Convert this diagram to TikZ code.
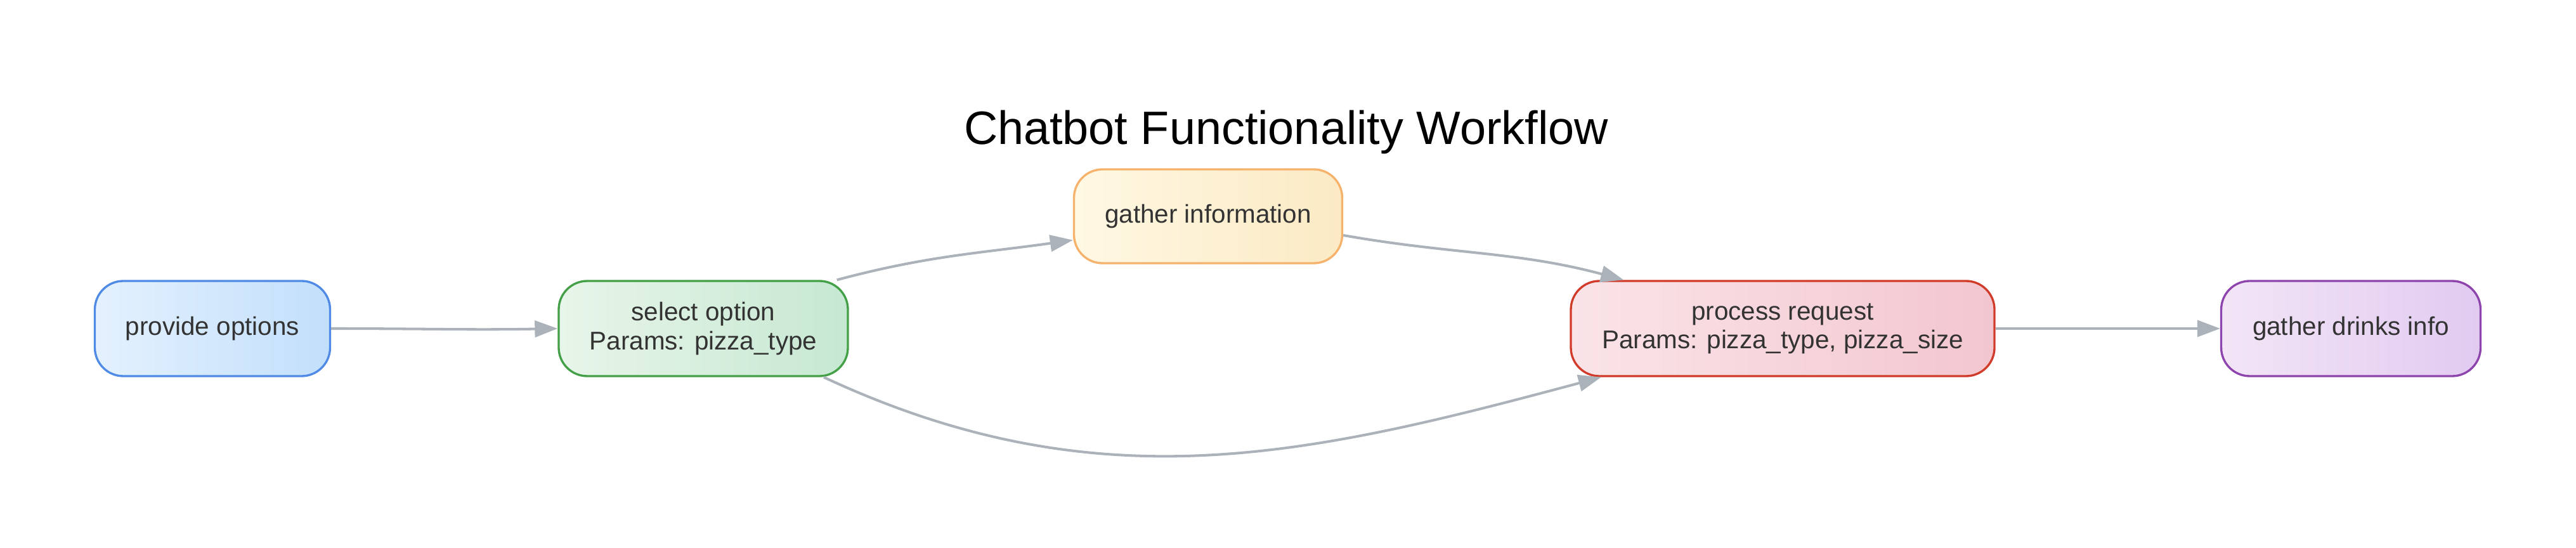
\documentclass[tikz,border=0pt]{standalone}
\usepackage{fontspec}
\setmainfont{Liberation Sans}
\usetikzlibrary{
    arrows.meta,
    positioning,
    shapes.misc
}
\definecolor{edgegray}{HTML}{ABB2BA}
\definecolor{textgray}{HTML}{333333}
\tikzset{
    every picture/.style = {
        > = {Triangle[length = 0.36cm, width = 0.26cm]}
    },
    flowbox/.style = {
        draw,
        rounded corners = 0.45cm,
        line width = 0.95pt,
        text = textgray,
        font = \fontsize{11.5}{13}\selectfont,
        align = center,
        inner sep = 0pt,
        minimum height = 1.5cm
    },
    bluebox/.style   = {flowbox, draw = {rgb,255:red,79;green,139;blue,230},  left color = {rgb,255:red,228;green,241;blue,254}, right color = {rgb,255:red,194;green,223;blue,251}},
    greenbox/.style  = {flowbox, draw = {rgb,255:red,67;green,160;blue,71},   left color = {rgb,255:red,232;green,245;blue,234}, right color = {rgb,255:red,198;green,232;blue,210}},
    orangebox/.style = {flowbox, draw = {rgb,255:red,246;green,178;blue,107}, left color = {rgb,255:red,255;green,248;blue,227}, right color = {rgb,255:red,251;green,234;blue,196}},
    redbox/.style    = {flowbox, draw = {rgb,255:red,209;green,59;blue,42},   left color = {rgb,255:red,250;green,228;blue,232}, right color = {rgb,255:red,243;green,198;blue,207}},
    purplebox/.style = {flowbox, draw = {rgb,255:red,142;green,68;blue,173},  left color = {rgb,255:red,243;green,229;blue,246}, right color = {rgb,255:red,225;green,203;blue,241}},
    flow/.style = {
        ->,
        draw = edgegray,
        line width = 1.15pt
    }
}

\begin{document}
\begin{tikzpicture}
    % \draw[step = 1cm, lightgray, very thin] (0, -8.64) grid (40.62, 0);
    \useasboundingbox (0, 0) rectangle (40.62, -8.64);

    \node (title) [anchor = base, font = \fontsize{21}{25}\selectfont] at (20.28, -2.28) {Chatbot Functionality Workflow};

    \node (options) [bluebox, minimum width = 3.71cm] at (3.35, -5.18) {provide options};
    \node (select) [greenbox, minimum width = 4.56cm] at (11.09, -5.18) {select option\\Params: pizza\_type};
    \node (gather) [orangebox, minimum width = 4.23cm, minimum height = 1.48cm] at (19.05, -3.41) {gather information};
    \node (process) [redbox, minimum width = 6.68cm] at (28.11, -5.18) {process request\\Params: pizza\_type, pizza\_size};
    \node (drinks) [purplebox, minimum width = 4.09cm] at (37.07, -5.18) {gather drinks info};

    \path[flow] (options.east) to[out = 0, in = 181] (select.west);
    \path[flow] (select.20) to[out = 15, in = 188] (gather.190);
    \path[flow] (gather.-8) to[out = -10, in = 165] (process.163);
    \path[flow] (select.-22) to[out = -25, in = 195] (process.195);
    \path[flow] (process.east) to[out = 0, in = 180] (drinks.west);
\end{tikzpicture}
\end{document}
